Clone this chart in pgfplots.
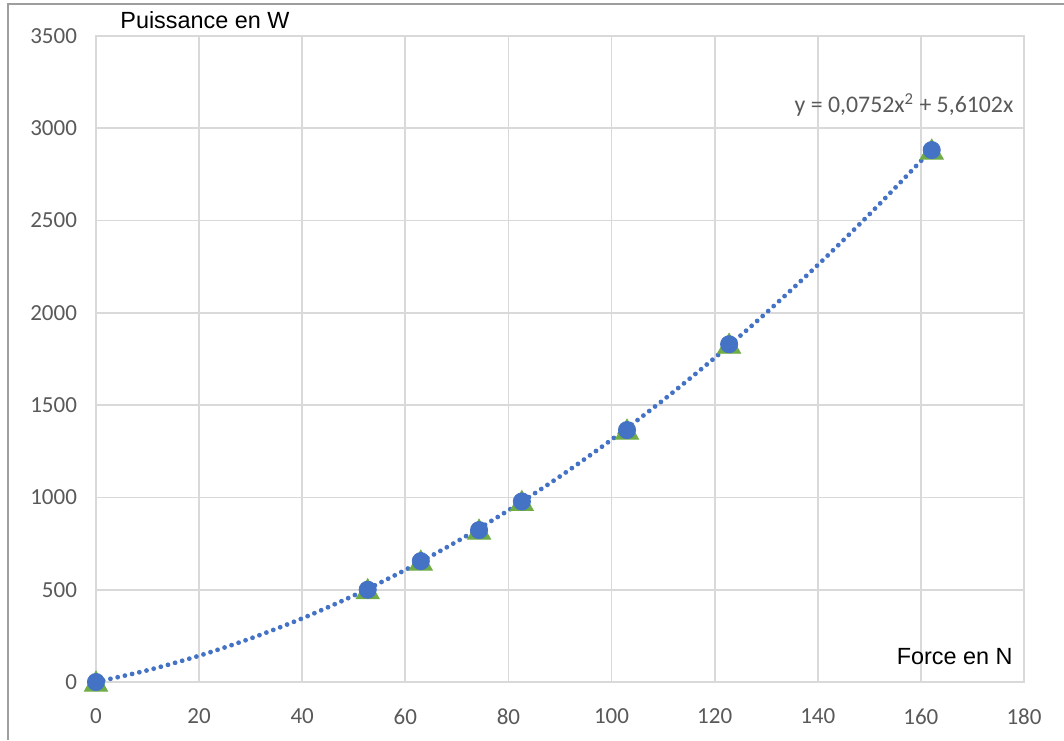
\documentclass[border=0pt]{standalone}
\usepackage{pgfplots}
\pgfplotsset{compat=1.18}
\usepackage{fontspec}
\setmainfont{Liberation Sans}
\newfontfamily\calib{Carlito}
\definecolor{xlblue}{HTML}{4472C4}
\definecolor{xlgreen}{HTML}{70AD47}
\definecolor{gridc}{HTML}{D9D9D9}
\definecolor{tickc}{HTML}{595959}
\begin{document}
\begin{tikzpicture}
\useasboundingbox (-48pt,-29pt) rectangle (484pt,341pt);
\draw[color=black!38, line width=0.8pt] (-44pt,-29pt) -- (-44pt,339pt) -- (484pt,339pt);
\begin{axis}[
  at={(0,0)}, anchor=south west,
  scale only axis, width=464pt, height=323pt,
  xmin=0, xmax=180, ymin=0, ymax=3500,
  xtick={0,20,...,180}, ytick={0,500,...,3500},
  grid=major,
  major grid style={color=gridc, line width=0.9pt},
  axis line style={color=gridc, line width=0.9pt},
  axis lines*=box,
  tick style={draw=none},
  ticklabel style={font=\calib\fontsize{11.5}{13}\selectfont, text=tickc},
  xticklabel style={yshift=-10pt},
  yticklabel style={xshift=-6pt},
  /pgf/number format/assume math mode=true,
  /pgf/number format/set thousands separator={},
  clip=false,
]
% trendline y = 0.0752x^2 + 5.6102x (values read at each x)
\addplot[color=xlblue, line width=2.4pt, line cap=round, dash pattern=on 0pt off 3.7pt, smooth, no marks] coordinates {
(0,0) (10,63.6) (20,142.3) (30,236.0) (40,344.7) (50,468.5) (60,607.3) (70,761.2) (80,930.1) (90,1114.0) (100,1313.0) (110,1527.0) (120,1756.1) (130,2000.2) (140,2259.3) (150,2533.5) (160,2822.7) (162,2882.4)
};
\addplot[only marks, mark=triangle*, mark size=6.7pt, color=xlgreen, mark options={yshift=-1.2pt}] coordinates {
(0,0) (52.7,500) (63.0,655) (74.3,823) (82.6,978) (103.0,1365) (122.8,1830) (162.1,2882)
};
\addplot[only marks, mark=*, mark size=4.3pt, color=xlblue] coordinates {
(0,0) (52.7,500) (63.0,655) (74.3,823) (82.6,978) (103.0,1365) (122.8,1830) (162.1,2882)
};
\node[anchor=east, text=tickc, font=\calib\fontsize{11.9}{13}\selectfont, inner sep=0pt] at (axis cs:178,3126) {y = 0,0752x\textsuperscript{2} + 5,6102x};
\end{axis}
\node[anchor=west, font=\fontsize{11.7}{13}\selectfont, inner sep=0pt] at (12pt,331pt) {Puissance en W};
\node[anchor=east, font=\fontsize{11.7}{13}\selectfont, inner sep=0pt] at (458.5pt,12.5pt) {Force en N};
\end{tikzpicture}
\end{document}
